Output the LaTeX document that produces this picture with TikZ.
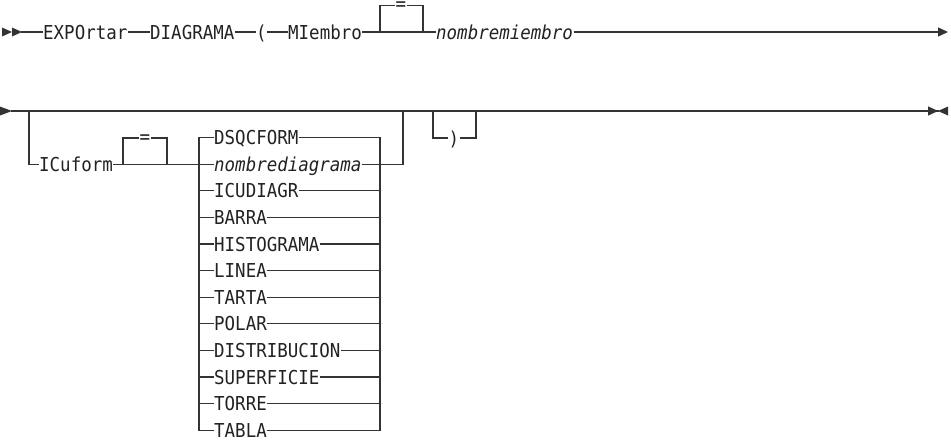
\documentclass[tikz,border=0pt]{standalone}
\usepackage{fontspec}
\usepackage{tikz}
\usetikzlibrary{arrows.meta,positioning}
\newfontfamily\railfont[FakeStretch=0.91]{DejaVu Sans Mono}
\definecolor{rail}{HTML}{333333}
\definecolor{ink}{HTML}{222222}
\tikzset{
  kw/.style={font=\railfont\fontsize{19.2}{20}\selectfont,text=ink,anchor=west,inner xsep=1pt,inner ysep=0pt,text height=14pt,text depth=0pt},
  var/.style={kw,font=\railfont\itshape\fontsize{19.2}{20}\selectfont},
  eqmark/.style={kw,anchor=center,text height=10pt,text depth=-3pt},
  rr/.style={draw=rail,line width=1.3pt,line cap=rect},
  tip/.style={-{Triangle[length=10pt,width=9pt]}}
}

\begin{document}
\begin{tikzpicture}[x=1pt,y=-1pt]
\useasboundingbox (0,0) rectangle (951,440);
\fill[rail] (2,27.5)--(12,32)--(2,36.5)--cycle;\fill[rail] (12,27.5)--(22,32)--(12,36.5)--cycle;
\coordinate (r1s) at (22,32);
\node[kw] (expo) at (42,32) {EXPOrtar};
\node[kw] (diag) at (149,32) {DIAGRAMA};
\node[kw] (opar) at (255,32) {(};
\node[kw] (miem) at (287,32) {MIembro};
\coordinate (eqL) at (380,32);\coordinate (eqR) at (423,32);
\node[eqmark] (eq1) at (401,5.5) {=};
\node[var] (nmiem) at (435,32) {nombremiembro};
\coordinate (r1e) at (948,32);
\draw[rr] (r1s) -- (expo) -- (diag) -- (opar) -- (miem) -- (eqL) -- (eqR) -- (nmiem);
\draw[rr,tip] (nmiem) -- (r1e);
\draw[rr] (eqL) |- (eq1) -| (eqR);

\fill[rail] (0,106.5)--(12,111)--(0,115.5)--cycle;
\coordinate (r2s) at (12,111);\coordinate (j1) at (29,111);
\coordinate (xT) at (403,111);\coordinate (pL) at (433,111);\coordinate (pR) at (476,111);
\coordinate (r2e) at (938,111);
\foreach \lbl/\sty [count=\i] in {DSQCFORM/kw,nombrediagrama/var,ICUDIAGR/kw,BARRA/kw,HISTOGRAMA/kw,LINEA/kw,TARTA/kw,POLAR/kw,DISTRIBUCION/kw,SUPERFICIE/kw,TORRE/kw,TABLA/kw}{
  \coordinate (l\i) at (199,{111+26.6*\i});\coordinate (r\i) at (380,{111+26.6*\i});
  \node[\sty] (it\i) at (213,{111+26.6*\i}) {\lbl};
  \draw[rr] (l\i) -- (it\i) -- (r\i);
}
\draw[rr] (l1) -- (l12);\draw[rr] (r1) -- (r12);
\node[kw] (icf) at (38,0 |- l2) {ICuform};
\coordinate (eqL2) at (123,0 |- l2);\coordinate (eqR2) at (167,0 |- l2);
\node[eqmark] (eq2) at (145,138) {=};
\coordinate (xR) at (xT |- r2);
\node[kw,anchor=center] (cpar) at (454,138) {)};
\draw[rr] (r2s) -- (j1) -- (xT) -- (pL) -- (pR) -- (r2e);
\draw[rr,tip] (r2e) ++(-1,0) -- ++(1,0);
\fill[rail] (948,106.5)--(938,111)--(948,115.5)--cycle;
\draw[rr] (j1) |- (icf) -- (eqL2) -- (eqR2) -- (l2);
\draw[rr] (eqL2) |- (eq2) -| (eqR2);
\draw[rr] (r2) -- (xR) -- (xT);
\draw[rr] (pL) |- (cpar) -| (pR);
\end{tikzpicture}
\end{document}
